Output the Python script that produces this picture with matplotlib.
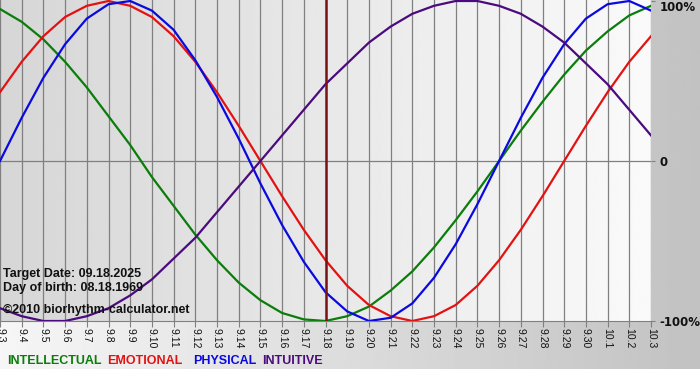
# Biorhythm chart, 09.03.2025 - 10.03.2025
import numpy as np
import pandas as pd
import matplotlib
matplotlib.use("Agg")
import matplotlib.pyplot as plt
import matplotlib.dates as mdates

# Datos (valor diario, -1 .. 1)
fechas = pd.date_range("2025-09-03", "2025-10-03", freq="D")
etiquetas = [f"{f.month}.{f.day}" for f in fechas]
fecha_objetivo = pd.Timestamp("2025-09-18")

physical = [0.00, 0.27, 0.52, 0.73, 0.89, 0.98, 1.00, 0.94, 0.82, 0.63, 0.40,
            0.14, -0.14, -0.40, -0.63, -0.82, -0.94, -1.00, -0.98, -0.89, -0.73,
            -0.52, -0.27, 0.00, 0.27, 0.52, 0.73, 0.89, 0.98, 1.00, 0.94]
emotional = [0.43, 0.62, 0.78, 0.90, 0.97, 1.00, 0.97, 0.90, 0.78, 0.62, 0.43,
             0.22, 0.00, -0.22, -0.43, -0.62, -0.78, -0.90, -0.97, -1.00, -0.97,
             -0.90, -0.78, -0.62, -0.43, -0.22, 0.00, 0.22, 0.43, 0.62, 0.78]
intellectual = [0.95, 0.87, 0.76, 0.62, 0.46, 0.28, 0.10, -0.10, -0.28, -0.46, -0.62,
                -0.76, -0.87, -0.95, -0.99, -1.00, -0.97, -0.91, -0.81, -0.69, -0.54,
                -0.37, -0.19, 0.00, 0.19, 0.37, 0.54, 0.69, 0.81, 0.91, 0.97]
intuitive = [-0.92, -0.97, -1.00, -1.00, -0.97, -0.92, -0.84, -0.74, -0.61, -0.48, -0.32,
             -0.16, 0.00, 0.16, 0.32, 0.48, 0.61, 0.74, 0.84, 0.92, 0.97,
             1.00, 1.00, 0.97, 0.92, 0.84, 0.74, 0.61, 0.48, 0.32, 0.16]

series = [("INTELLECTUAL", intellectual, "#0a7d0a"),
          ("EMOTIONAL", emotional, "#e31212"),
          ("PHYSICAL", physical, "#0a0ae0"),
          ("INTUITIVE", intuitive, "#4b0a7d")]

W, H = 700, 380
fig = plt.figure(figsize=(W / 100, H / 100), dpi=100)

# Fondo exterior con degradado
bg = fig.add_axes([0, 0, 1, 1], zorder=-10)
grad = np.linspace(0.965, 0.76, 256).reshape(1, -1)
bg.imshow(grad, cmap="gray", vmin=0, vmax=1, aspect="auto",
          extent=[0, W, H - 369, H], origin="lower")
bg.set_xlim(0, W)
bg.set_ylim(0, H)
bg.axis("off")

# Area del grafico
ax = fig.add_axes([0, (H - 321) / H, 651 / W, 321 / H])
x0, x1 = fechas[0], fechas[-1]
ax.set_xlim(x0, x1)
ax.set_ylim(-1, 1.00625)
grad2 = np.linspace(0.84, 0.98, 256).reshape(1, -1)
ax.imshow(grad2, cmap="gray", vmin=0, vmax=1, aspect="auto",
          extent=[mdates.date2num(x0), mdates.date2num(x1), -1, 1.00625],
          zorder=0)

for f in fechas:
    ax.axvline(f, color="#808080", lw=0.9, zorder=1)
ax.axhline(0, color="#808080", lw=0.9, zorder=1)

for nombre, vals, color in series:
    ax.plot(fechas, vals, color=color, lw=1.6, zorder=3, solid_joinstyle="round")

ax.axvline(fecha_objetivo, color="#7a1414", lw=1.8, zorder=4)

ax.set_xticks(fechas)
ax.set_xticklabels(etiquetas, rotation=-90, fontsize=7.5, family="Liberation Sans", color="#111111")
ax.tick_params(axis="x", length=4, color="#808080", pad=1)
ax.yaxis.tick_right()
ax.set_yticks([-1, 0, 1])
ax.set_yticklabels(["-100%", "0", "100%"], fontsize=8.5, fontweight="bold", family="DejaVu Sans",
                   color="#111111")
ax.tick_params(axis="y", length=3, color="#808080", pad=3)
ax.get_yticklabels()[2].set_va("top")
for s in ["top", "left", "right"]:
    ax.spines[s].set_visible(False)
ax.spines["bottom"].set_color("#808080")

# Textos
info = dict(fontsize=9, fontweight="bold", family="Liberation Sans", color="#111111",
            transform=ax.transAxes, zorder=6)
ax.text(3 / 651, (321 - 277) / 321, "Target Date: 09.18.2025", **info)
ax.text(3 / 651, (321 - 291) / 321, "Day of birth: 08.18.1969", **info)
ax.text(3 / 651, (321 - 313) / 321, "\u00a92010 biorhythm-calculator.net", **info)

xs = [7, 107, 193, 262]
for (nombre, vals, color), xp in zip(series, xs):
    fig.text(xp / W, (H - 361) / H, nombre, color=color, fontsize=9, fontweight="bold",
             family="Liberation Sans", va="center")

fig.savefig("out.png", dpi=100)
